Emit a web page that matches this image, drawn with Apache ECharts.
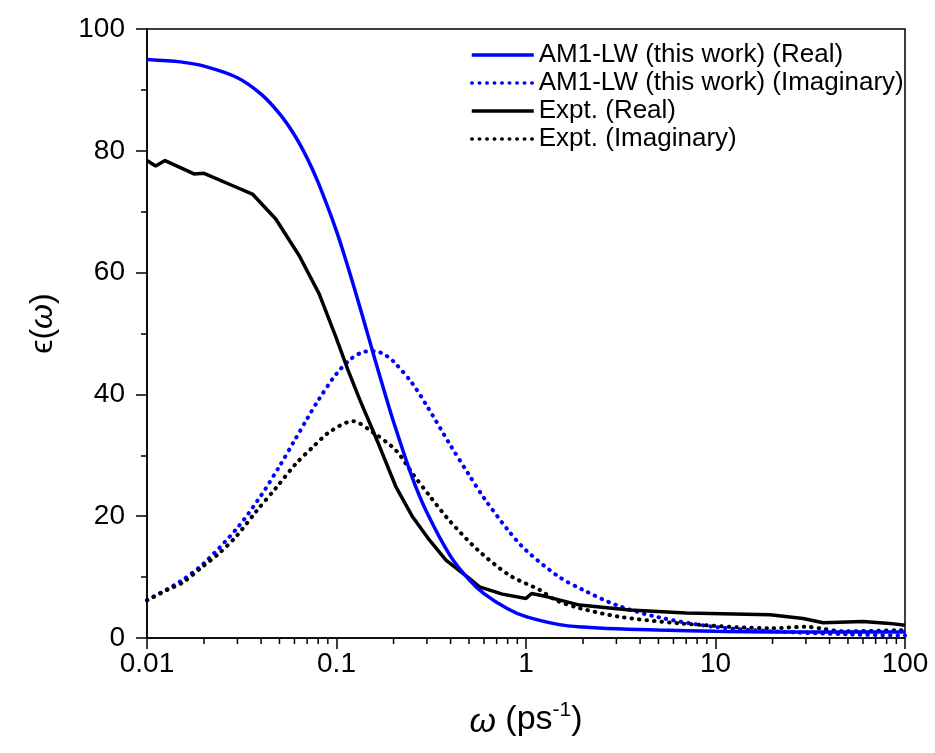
<!DOCTYPE html>
<html>
<head>
<meta charset="utf-8">
<script src="https://cdn.jsdelivr.net/npm/echarts@6/dist/echarts.min.js"></script>
<style>
  html, body { margin: 0; padding: 0; background: #fff; }
  #chart { width: 935px; height: 753px; }
</style>
</head>
<body>
<div id="chart"></div>
<script>
// omega (ps^-1) grid for the AM1-LW curves
const omegaModel = [0.01, 0.015, 0.02, 0.03, 0.04, 0.05, 0.06, 0.07, 0.08, 0.1, 0.12, 0.14, 0.16, 0.18, 0.2,
  0.25, 0.3, 0.4, 0.5, 0.6, 0.8, 1, 1.5, 2, 3, 5, 10, 20, 50, 100]
const modelReal = [95.0, 94.6, 93.9, 92.0, 89.3, 86.1, 82.6, 78.8, 74.8, 66.8, 59.0, 51.9, 45.6, 40.2, 35.5,
  26.5, 20.6, 13.4, 9.6, 7.3, 4.8, 3.5, 2.2, 1.8, 1.5, 1.3, 1.1, 1.0, 1.0, 1.0]
const modelImag = [6.2, 9.3, 12.3, 18.1, 23.4, 28.2, 32.4, 36.0, 39.0, 43.4, 45.9, 47.0, 47.1, 46.5, 45.4,
  41.9, 38.1, 31.6, 26.8, 23.0, 17.8, 14.4, 10.0, 7.9, 5.4, 3.4, 1.8, 1.1, 0.6, 0.4]

// experiment, real part
const exptRealOmega = [0.01, 0.0111, 0.01245, 0.0177, 0.02, 0.0282, 0.036, 0.0478, 0.0635, 0.081, 0.0993, 0.115,
  0.132, 0.168, 0.206, 0.252, 0.309, 0.378, 0.502, 0.568, 0.75, 1.0, 1.07, 1.28, 1.92, 3.52, 7.0, 19.4, 29, 37,
  60, 83, 100]
const exptReal = [78.4, 77.5, 78.4, 76.2, 76.3, 74.3, 72.9, 68.8, 62.8, 56.5, 49.4, 44.0,
  39.3, 31.6, 24.8, 19.9, 16.1, 12.8, 9.8, 8.4, 7.2, 6.5, 7.3, 6.8, 5.4, 4.6, 4.1, 3.8, 3.2, 2.5,
  2.7, 2.4, 2.1]

// experiment, imaginary part
const exptImagOmega = [0.01, 0.0128, 0.0154, 0.0196, 0.024, 0.0294, 0.0375, 0.0478, 0.061, 0.0747, 0.0916, 0.122,
  0.155, 0.206, 0.252, 0.309, 0.394, 0.55, 0.818, 1.18, 1.44, 1.92, 3.1, 6.5, 20, 30, 37, 47, 100]
const exptImag = [6.2, 7.9, 9.1, 11.7, 13.9, 16.6, 20.7, 24.6, 28.6, 31.3, 33.8, 35.6,
  33.8, 30.8, 27.0, 23.4, 19.3, 14.6, 10.3, 7.9, 6.2, 4.9, 3.5, 2.4, 1.6, 1.85, 1.5, 1.1, 1.3]

const xTickLabels = ['0.01', '0.1', '1', '10', '100']
const xMinorTicks = [0.02, 0.03, 0.04, 0.05, 0.06, 0.07, 0.08, 0.09,
  0.2, 0.3, 0.4, 0.5, 0.6, 0.7, 0.8, 0.9,
  2, 3, 4, 5, 6, 7, 8, 9,
  20, 30, 40, 50, 60, 70, 80, 90]

const names = ['AM1-LW (this work) (Real)', 'AM1-LW (this work) (Imaginary)', 'Expt. (Real)', 'Expt. (Imaginary)']

const FONT = '"Liberation Sans", Arial, "DejaVu Sans", sans-serif'
const zip = (xs, ys) => xs.map((x, i) => [x, ys[i]])
const dotted = [0.5, 7]

let myChart = echarts.init(document.getElementById('chart'))
let option = {
  animation: false,
  backgroundColor: '#fff',
  grid: {
    left: 147,
    right: 30,
    top: 29,
    bottom: 115,
    show: true,
    borderColor: '#000',
    borderWidth: 1.5
  },
  legend: {
    data: names,
    orient: 'vertical',
    left: 470,
    top: 42,
    padding: 0,
    itemWidth: 62,
    itemHeight: 14,
    itemGap: 2,
    // line only, no marker in the legend samples
    itemStyle: { opacity: 0 },
    lineStyle: { width: 3.5 },
    textStyle: {
      fontFamily: FONT,
      fontSize: 26,
      color: '#000'
    }
  },
  xAxis: {
    type: 'log',
    logBase: 10,
    min: 0.01,
    max: 100,
    name: '{w|ω} (ps{sup|-1})',
    nameLocation: 'middle',
    nameGap: 62,
    nameTextStyle: {
      fontFamily: FONT,
      fontSize: 34,
      color: '#000',
      rich: {
        w: { fontFamily: FONT, fontSize: 34, fontStyle: 'italic', color: '#000', lineHeight: 40, verticalAlign: 'bottom' },
        sup: { fontFamily: FONT, fontSize: 21, color: '#000', lineHeight: 40, verticalAlign: 'top' }
      }
    },
    axisLine: { lineStyle: { color: '#000', width: 1.5 } },
    axisTick: { length: 11, lineStyle: { color: '#000', width: 1.5 } },
    minorTick: { show: false },
    splitLine: { show: false },
    axisLabel: {
      margin: 12,
      fontFamily: FONT,
      fontSize: 28,
      color: '#000',
      formatter: v => xTickLabels[Math.round(Math.log10(v)) + 2]
    }
  },
  yAxis: {
    type: 'value',
    min: 0,
    max: 100,
    interval: 20,
    name: '{e|ϵ}({w|ω})',
    nameLocation: 'middle',
    nameGap: 88,
    nameTextStyle: {
      fontFamily: FONT,
      fontSize: 32,
      color: '#000',
      padding: [0, 0, 0, 20],
      rich: {
        e: { fontFamily: FONT, fontSize: 32, color: '#000' },
        w: { fontFamily: FONT, fontSize: 32, fontStyle: 'italic', color: '#000' }
      }
    },
    axisLine: { show: true, lineStyle: { color: '#000', width: 1.5 } },
    axisTick: { show: true, length: 11, lineStyle: { color: '#000', width: 1.5 } },
    minorTick: { show: true, splitNumber: 2, length: 6, lineStyle: { color: '#000', width: 1.5 } },
    splitLine: { show: false },
    axisLabel: {
      margin: 22,
      fontFamily: FONT,
      fontSize: 28,
      color: '#000'
    }
  },
  series: [
    {
      name: names[0],
      type: 'line',
      symbol: 'none',
      smooth: 0.3,
      data: zip(omegaModel, modelReal),
      lineStyle: { color: '#0000ff', width: 3.5 },
      itemStyle: { color: '#0000ff' },
      z: 4
    },
    {
      name: names[1],
      type: 'line',
      symbol: 'none',
      smooth: 0.3,
      data: zip(omegaModel, modelImag),
      lineStyle: { color: '#0000ff', width: 4, type: dotted, cap: 'round' },
      itemStyle: { color: '#0000ff' },
      z: 3
    },
    {
      name: names[2],
      type: 'line',
      symbol: 'none',
      data: zip(exptRealOmega, exptReal),
      lineStyle: { color: '#000', width: 3.5 },
      itemStyle: { color: '#000' },
      z: 3
    },
    {
      name: names[3],
      type: 'line',
      symbol: 'none',
      smooth: 0.3,
      data: zip(exptImagOmega, exptImag),
      lineStyle: { color: '#000', width: 4, type: dotted, cap: 'round' },
      itemStyle: { color: '#000' },
      z: 3
    },
    {
      // minor ticks of the log axis (2..9 in each decade)
      type: 'custom',
      silent: true,
      clip: false,
      data: xMinorTicks.map(v => [v, 0]),
      encode: { x: 0, y: 1 },
      renderItem: (params, api) => {
        let p = api.coord([api.value(0), 0])
        return {
          type: 'line',
          shape: { x1: p[0], y1: p[1], x2: p[0], y2: p[1] + 6 },
          style: { stroke: '#000', lineWidth: 1.5 }
        }
      },
      z: 5
    }
  ]
}
myChart.setOption(option)
</script>
</body>
</html>
